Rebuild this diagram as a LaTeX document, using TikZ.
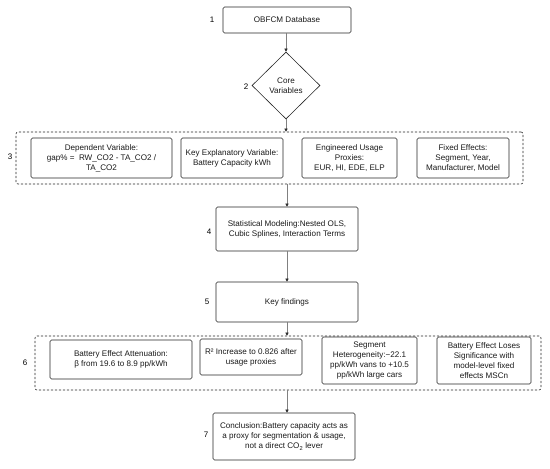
\documentclass[tikz,border=0pt]{standalone}
\usepackage{fontspec}
\setmainfont{Liberation Sans}
\usetikzlibrary{shapes.geometric,arrows.meta}
\begin{document}
\begin{tikzpicture}[x=1pt,y=-1pt,
  txt/.style={font=\fontsize{8.1}{10}\selectfont, align=center, text=black!90},
  box/.style={txt, draw=black!85, line width=0.6pt, rounded corners=1.5pt, inner sep=1pt},
  grp/.style={draw=black!85, line width=0.6pt, dash pattern=on 2.2pt off 1.8pt, rounded corners=2pt, inner sep=0pt},
  num/.style={font=\fontsize{8}{10}\selectfont},
  arr/.style={draw=black!50, line width=0.5pt, -{Triangle[length=3pt,width=3pt,color=black!85]}}
]
\useasboundingbox (0,0) rectangle (550,469);
% row 1
\node[box, minimum width=128, minimum height=26] (n1) at (287,20) {OBFCM Database};
\node[num] (l1) at (212,20) {1};
% diamond
\node[txt, diamond, aspect=1, draw=black!85, line width=0.6pt, inner sep=0pt, minimum width=68, minimum height=67] (n2) at (286,85.5) {Core\\Variables};
\node[num] (l2) at (246,87) {2};
% group 3
\node[grp, minimum width=507, minimum height=52] (g3) at (269.5,158) {};
\node[num] (l3) at (10,157) {3};
\node[box, minimum width=141, minimum height=40] (a) at (101.5,158) {Dependent Variable:\\gap\% =\ \ RW\_CO2 - TA\_CO2 /\\TA\_CO2};
\node[box, minimum width=102, minimum height=40] (b) at (232,158) {Key Explanatory Variable:\\Battery Capacity kWh};
\node[box, minimum width=95, minimum height=40] (c) at (349.5,158) {Engineered Usage\\Proxies:\\EUR, HI, EDE, ELP};
\node[box, minimum width=92, minimum height=40] (d) at (463,158) {Fixed Effects:\\Segment, Year,\\Manufacturer, Model};
% row 4
\node[box, minimum width=142, minimum height=44] (n4) at (287,229) {Statistical Modeling:Nested OLS,\\Cubic Splines, Interaction Terms};
\node[num] (l4) at (209,232) {4};
% row 5
\node[box, minimum width=142, minimum height=40] (n5) at (287,302) {Key findings};
\node[num] (l5) at (207,302) {5};
% group 6
\node[grp, minimum width=506, minimum height=54] (g6) at (288,363) {};
\node[num] (l6) at (25,363) {6};
\node[box, minimum width=142, minimum height=39] (e) at (121,359.5) {Battery Effect Attenuation:\\β from 19.6 to 8.9 pp/kWh};
\node[box, minimum width=102, minimum height=36] (f) at (251,357) {R² Increase to 0.826 after\\usage proxies};
\node[box, minimum width=95, minimum height=47] (g) at (369.5,360.5) {Segment\\Heterogeneity:−22.1\\pp/kWh vans to +10.5\\pp/kWh large cars};
\node[box, minimum width=94, minimum height=47] (h) at (484,360.5) {Battery Effect Loses\\Significance with\\model-level fixed\\effects MSCn};
% row 7
\node[box, minimum width=142, minimum height=47] (n7) at (284,436.5) {Conclusion:Battery capacity acts as\\a proxy for segmentation \& usage,\\not a direct CO\textsubscript{2} lever};
\node[num] (l7) at (206,435) {7};
% arrows
\draw[arr] (n1.south -| n2.north) -- (n2.north);
\draw[arr] (n2.south) -- (n2.south |- g3.north);
\draw[arr] (n4.north |- g3.south) -- (n4.north);
\draw[arr] (n4.south) -- (n5.north);
\draw[arr] (n5.south) -- (n5.south |- g6.north);
\draw[arr] (n5.south |- g6.south) -- (n5.south |- n7.north);
\end{tikzpicture}
\end{document}
